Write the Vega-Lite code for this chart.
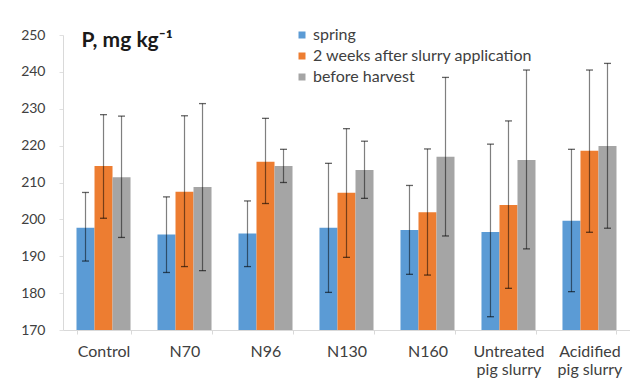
{
  "$schema": "https://vega.github.io/schema/vega-lite/v6.json",
  "autosize": {"type": "none"},
  "width": 567,
  "height": 295,
  "padding": {"left": 63, "top": 35, "right": 0, "bottom": 62},
  "background": "white",
  "config": {"font": "Lato", "view": {"stroke": null}},
  "data": {"values": [
      {"cat": "Control", "series": "spring", "value": 197.7, "lo": 188.7, "hi": 207.3},
      {"cat": "Control", "series": "2 weeks after slurry application", "value": 214.5, "lo": 200.3, "hi": 228.4},
      {"cat": "Control", "series": "before harvest", "value": 211.4, "lo": 195.1, "hi": 228.0},
      {"cat": "N70", "series": "spring", "value": 195.9, "lo": 185.6, "hi": 206.1},
      {"cat": "N70", "series": "2 weeks after slurry application", "value": 207.5, "lo": 187.2, "hi": 228.1},
      {"cat": "N70", "series": "before harvest", "value": 208.8, "lo": 186.1, "hi": 231.4},
      {"cat": "N96", "series": "spring", "value": 196.2, "lo": 187.2, "hi": 205.0},
      {"cat": "N96", "series": "2 weeks after slurry application", "value": 215.6, "lo": 204.3, "hi": 227.4},
      {"cat": "N96", "series": "before harvest", "value": 214.5, "lo": 210.0, "hi": 219.0},
      {"cat": "N130", "series": "spring", "value": 197.7, "lo": 180.2, "hi": 215.2},
      {"cat": "N130", "series": "2 weeks after slurry application", "value": 207.2, "lo": 189.7, "hi": 224.6},
      {"cat": "N130", "series": "before harvest", "value": 213.4, "lo": 205.7, "hi": 221.2},
      {"cat": "N160", "series": "spring", "value": 197.1, "lo": 185.1, "hi": 209.2},
      {"cat": "N160", "series": "2 weeks after slurry application", "value": 201.9, "lo": 184.9, "hi": 219.1},
      {"cat": "N160", "series": "before harvest", "value": 217.0, "lo": 195.5, "hi": 238.5},
      {"cat": "Untreated pig slurry", "series": "spring", "value": 196.6, "lo": 173.6, "hi": 220.4},
      {"cat": "Untreated pig slurry", "series": "2 weeks after slurry application", "value": 203.9, "lo": 181.3, "hi": 226.7},
      {"cat": "Untreated pig slurry", "series": "before harvest", "value": 216.1, "lo": 192.0, "hi": 240.5},
      {"cat": "Acidified pig slurry", "series": "spring", "value": 199.6, "lo": 180.4, "hi": 219.0},
      {"cat": "Acidified pig slurry", "series": "2 weeks after slurry application", "value": 218.6, "lo": 196.5, "hi": 240.5},
      {"cat": "Acidified pig slurry", "series": "before harvest", "value": 219.9, "lo": 197.6, "hi": 242.3}
  ]},
  "encoding": {
    "x": {
      "field": "cat", "type": "nominal", "sort": null, "title": null,
      "scale": {"paddingInner": 0.333, "paddingOuter": 0.1667},
      "axis": {
        "labelAngle": 0, "labelFontSize": 16, "labelColor": "#404040",
        "labelPadding": 9, "labelLimit": 200,
        "labelExpr": "datum.value == 'Untreated pig slurry' ? ['Untreated', 'pig slurry'] : (datum.value == 'Acidified pig slurry' ? ['Acidified', 'pig slurry'] : datum.value)",
        "tickBand": "extent", "tickSize": 4, "tickColor": "#d9d9d9",
        "domainColor": "#d9d9d9", "domainWidth": 1
      }
    },
    "xOffset": {"field": "series", "type": "nominal", "sort": ["spring", "2 weeks after slurry application", "before harvest"], "scale": {"paddingInner": 0, "paddingOuter": 0}}
  },
  "layer": [
    {
      "mark": {"type": "bar"},
      "encoding": {
        "y": {
          "field": "value", "type": "quantitative", "title": null,
          "scale": {"domain": [170, 250], "zero": false, "nice": false},
          "axis": {"values": [170, 180, 190, 200, 210, 220, 230, 240, 250], "grid": false, "labelFontSize": 14, "labelColor": "#404040", "labelOverlap": false, "labelPadding": 14, "tickSize": 4, "tickColor": "#e0e0e0", "domainColor": "#d9d9d9"}
        },
        "y2": {"datum": 170},
        "color": {
          "field": "series", "type": "nominal",
          "sort": ["spring", "2 weeks after slurry application", "before harvest"],
          "scale": {"domain": ["spring", "2 weeks after slurry application", "before harvest"], "range": ["#5B9BD5", "#ED7D31", "#A5A5A5"]},
          "legend": {
            "title": null, "orient": "none", "legendX": 231, "legendY": -8,
            "padding": 0, "symbolType": "square", "symbolSize": 49, "symbolStrokeWidth": 0,
            "labelFontSize": 16, "labelLimit": 400, "labelColor": "#404040", "labelOffset": 3, "rowPadding": 5
          }
        }
      }
    },
    {
      "mark": {"type": "rule", "color": "#000000", "opacity": 0.5, "strokeWidth": 1.2},
      "encoding": {
        "y": {"field": "lo", "type": "quantitative", "title": null,
          "axis": {"values": [170, 180, 190, 200, 210, 220, 230, 240, 250], "grid": false, "labelFontSize": 14, "labelColor": "#404040", "labelOverlap": false, "labelPadding": 14, "tickSize": 4, "tickColor": "#e0e0e0", "domainColor": "#d9d9d9"}},
        "y2": {"field": "hi"}
      }
    },
    {
      "mark": {"type": "tick", "color": "#000000", "opacity": 0.6, "size": 7, "thickness": 1.3},
      "encoding": {
        "y": {"field": "hi", "type": "quantitative", "title": null,
          "axis": {"values": [170, 180, 190, 200, 210, 220, 230, 240, 250], "grid": false, "labelFontSize": 14, "labelColor": "#404040", "labelOverlap": false, "labelPadding": 14, "tickSize": 4, "tickColor": "#e0e0e0", "domainColor": "#d9d9d9"}}
      }
    },
    {
      "mark": {"type": "tick", "color": "#000000", "opacity": 0.6, "size": 7, "thickness": 1.3},
      "encoding": {
        "y": {"field": "lo", "type": "quantitative", "title": null,
          "axis": {"values": [170, 180, 190, 200, 210, 220, 230, 240, 250], "grid": false, "labelFontSize": 14, "labelColor": "#404040", "labelOverlap": false, "labelPadding": 14, "tickSize": 4, "tickColor": "#e0e0e0", "domainColor": "#d9d9d9"}}
      }
    },
    {
      "data": {"values": [{"t": "P, mg kg⁻¹"}]},
      "mark": {"type": "text", "align": "left", "baseline": "alphabetic", "dx": 5, "dy": 12, "fontSize": 21, "fontWeight": "bold", "color": "#1a1a1a"},
      "encoding": {
        "x": {"datum": "Control"},
        "xOffset": {"value": 0},
        "y": {"datum": 250, "type": "quantitative", "title": null,
          "axis": {"values": [170, 180, 190, 200, 210, 220, 230, 240, 250], "grid": false, "labelFontSize": 14, "labelColor": "#404040", "labelOverlap": false, "labelPadding": 14, "tickSize": 4, "tickColor": "#e0e0e0", "domainColor": "#d9d9d9"}},
        "text": {"field": "t"}
      }
    }
  ]
}
